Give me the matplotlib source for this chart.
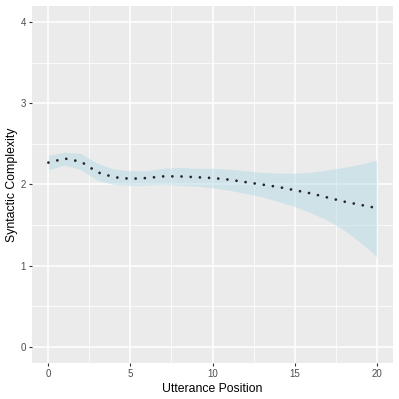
import matplotlib
matplotlib.use("Agg")
import matplotlib.pyplot as plt
from matplotlib.ticker import MultipleLocator

plt.rcParams['font.family'] = ['Liberation Sans', 'DejaVu Sans']

position = [0, 1, 2, 3, 4, 5, 6, 7, 8, 9, 10, 11, 12, 13, 14, 15, 16, 17, 18, 19, 20]
complexity = [2.27, 2.32, 2.28, 2.15, 2.09, 2.07, 2.08, 2.10, 2.10, 2.09, 2.08,
              2.06, 2.03, 2.00, 1.97, 1.93, 1.89, 1.84, 1.79, 1.75, 1.71]
ci_low = [2.18, 2.24, 2.18, 2.05, 2.00, 1.99, 1.99, 2.00, 1.99, 1.98, 1.96,
          1.93, 1.89, 1.85, 1.79, 1.73, 1.65, 1.56, 1.44, 1.29, 1.11]
ci_high = [2.36, 2.40, 2.38, 2.26, 2.19, 2.17, 2.17, 2.20, 2.21, 2.20, 2.20,
           2.19, 2.17, 2.15, 2.14, 2.14, 2.15, 2.18, 2.21, 2.25, 2.30]

fig = plt.figure(figsize=(3.99, 3.99), dpi=100)
ax = fig.add_axes([32/399, 36/399, 361/399, 357/399])
ax.set_facecolor('#EBEBEB')

ax.fill_between(position, ci_low, ci_high, color='#ADD8E6', alpha=0.45, linewidth=0, zorder=2)
line, = ax.plot(position, complexity, color='#262626', linewidth=2.0,
                linestyle=(0, (0.01, 3.3)), zorder=3)
line.set_dash_capstyle('round')

ax.set_xlim(-1, 21)
ax.set_ylim(-0.2, 4.2)
ax.xaxis.set_major_locator(MultipleLocator(5))
ax.xaxis.set_minor_locator(MultipleLocator(2.5))
ax.yaxis.set_major_locator(MultipleLocator(1))
ax.yaxis.set_minor_locator(MultipleLocator(0.5))
ax.grid(which='major', color='white', linewidth=1.1, zorder=1)
ax.grid(which='minor', color='white', linewidth=0.55, zorder=1)
ax.set_axisbelow(True)
for s in ax.spines.values():
    s.set_visible(False)
ax.tick_params(which='major', length=2.5, width=0.8, color='#333333',
               labelsize=7, labelcolor='#4D4D4D', pad=2)
ax.tick_params(which='minor', length=0)

ax.set_xlabel('Utterance Position', fontsize=8.8, color='black', labelpad=3)
ax.set_ylabel('Syntactic Complexity', fontsize=8.8, color='black', labelpad=2)

fig.savefig('out.png', dpi=100)
